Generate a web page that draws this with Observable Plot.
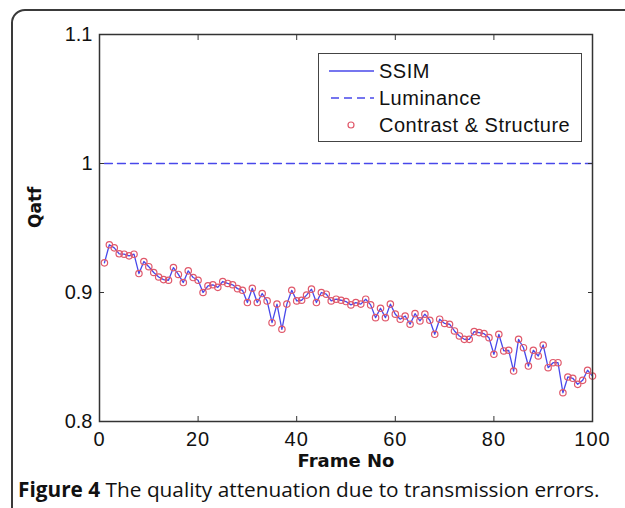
<!DOCTYPE html>
<html><head><meta charset="utf-8">
<script src="https://cdn.jsdelivr.net/npm/d3@7"></script>
<script src="https://cdn.jsdelivr.net/npm/@observablehq/plot@0.6"></script>
<style>
html,body{margin:0;padding:0;background:#fff;}
#wrap{position:relative;width:625px;height:508px;overflow:hidden;background:#fff;}
#border{position:absolute;left:11px;top:9px;width:640px;height:560px;border:2px solid #3a3a3a;border-radius:14px;box-sizing:border-box;}
#chart{position:absolute;left:0;top:0;}
#legend{position:absolute;left:318px;top:53px;width:264px;height:89px;border:1.3px solid #444;background:#fff;box-sizing:border-box;font-family:"Liberation Sans",Arial,sans-serif;font-size:20px;letter-spacing:0.5px;color:#111;}
.lg{position:absolute;left:0;height:24px;width:262px;}
.lg svg{position:absolute;left:9px;top:0;}
.lg span{position:absolute;left:60px;top:0px;line-height:24px;}
#caption{position:absolute;left:18px;top:475px;font-family:"Open Sans",sans-serif;font-size:20.8px;color:#111;white-space:nowrap;}
</style></head><body>
<div id="wrap"><div id="border"></div><div id="chart"></div><div id="legend"></div><div id="caption"></div></div>
<script>
// Frame numbers (x) and the series
const frameNo = d3.range(1, 101);
const ssim = [
 0.923,0.937,0.9346,0.930,0.9297,0.9284,0.9297,0.9147,0.924,0.920,
 0.9155,0.912,0.910,0.9095,0.9193,0.914,0.9077,0.9168,0.9116,0.9095,
 0.900,0.9051,0.906,0.904,0.9085,0.907,0.906,0.903,0.9017,0.8922,
 0.9033,0.8922,0.8992,0.8935,0.8766,0.891,0.8715,0.891,0.9017,0.8935,
 0.894,0.898,0.9026,0.8922,0.900,0.8987,0.8935,0.8948,0.894,0.893,
 0.8904,0.8922,0.891,0.8948,0.8904,0.8805,0.8878,0.8805,0.891,0.8832,
 0.8793,0.8818,0.8754,0.8836,0.878,0.8832,0.8785,0.8676,0.8793,0.876,
 0.8754,0.8702,0.8663,0.8637,0.8637,0.8697,0.8689,0.8681,0.865,0.8521,
 0.8676,0.8547,0.8552,0.8391,0.8637,0.8572,0.843,0.8552,0.8508,0.8593,
 0.8417,0.8456,0.8456,0.8223,0.8345,0.8335,0.8288,0.8319,0.8397,0.8352
];
const contrastStructure = ssim.slice();
const lumFrames = [1, 100];
const luminance = [1, 1];

const xTicks = [0, 20, 40, 60, 80, 100];
const yTicks = [0.8, 0.9, 1, 1.1];
const yTickLabels = ["0.8", "0.9", "1", "1.1"];
const seriesNames = ["SSIM", "Luminance", "Contrast & Structure"];
const xTitle = "Frame No";
const yTitle = "Qatf";
const captionBold = "Figure 4";
const captionText = " The quality attenuation due to transmission errors.";

const blue = "#4848ea";
const red = "#e0586a";

const ssimData = frameNo.map((f, i) => ({f, v: ssim[i]}));
const csData = frameNo.map((f, i) => ({f, v: contrastStructure[i]}));
const lumData = lumFrames.map((f, i) => ({f, v: luminance[i]}));

const chart = Plot.plot({
  width: 625, height: 478,
  marginLeft: 99, marginRight: 33, marginTop: 34, marginBottom: 57,
  style: {fontFamily: "'Liberation Sans', Arial, sans-serif", fontSize: "20px", background: "transparent", color: "#111", overflow: "visible"},
  x: {domain: [0, 100]},
  y: {domain: [0.8, 1.1]},
  marks: [
    Plot.line(lumData, {x: "f", y: "v", stroke: blue, strokeWidth: 1.3, strokeDasharray: "8,5"}),
    Plot.line(ssimData, {x: "f", y: "v", stroke: blue, strokeWidth: 1.3}),
    Plot.dot(csData, {x: "f", y: "v", r: 3.2, stroke: red, strokeWidth: 1.2, fill: "none"}),
    Plot.frame({stroke: "#333", strokeWidth: 1.5}),
    Plot.axisX(xTicks, {anchor: "bottom", tickSize: -5, tickPadding: 15, label: null, stroke: "#333"}),
    Plot.axisX(xTicks, {anchor: "top", tickSize: -5, tickFormat: () => "", label: null, stroke: "#333"}),
    Plot.axisY(yTicks, {anchor: "left", tickSize: -5, tickPadding: 12, label: null, tickFormat: (d, i) => yTickLabels[i], stroke: "#333"}),
    Plot.axisY(yTicks, {anchor: "right", tickSize: -5, tickFormat: () => "", label: null, stroke: "#333"}),
    Plot.text([xTitle], {frameAnchor: "bottom", dy: 45, fontWeight: "bold", fontFamily: "'DejaVu Sans', sans-serif", fontSize: 18, fill: "#111"}),
    Plot.text([yTitle], {frameAnchor: "left", dx: -64, rotate: -90, fontWeight: "bold", fontFamily: "'DejaVu Sans', sans-serif", fontSize: 17, fill: "#111"})
  ]
});
chart.querySelectorAll('[aria-label="x-axis tick label"] text').forEach(t => t.style.letterSpacing = "1px");
document.getElementById("chart").appendChild(chart);

// legend
const lg = document.getElementById("legend");
const rows = [
  {name: seriesNames[0], kind: "solid", top: 5},
  {name: seriesNames[1], kind: "dash", top: 32},
  {name: seriesNames[2], kind: "dot", top: 59}
];
rows.forEach(r => {
  const d = document.createElement("div");
  d.className = "lg";
  d.style.top = r.top + "px";
  let g = "";
  if (r.kind === "solid") g = `<line x1="1" x2="46" y1="12" y2="12" stroke="${blue}" stroke-width="1.3"/>`;
  if (r.kind === "dash") g = `<line x1="3" x2="46" y1="12" y2="12" stroke="${blue}" stroke-width="1.3" stroke-dasharray="8,5"/>`;
  if (r.kind === "dot") g = `<circle cx="23" cy="12" r="3" fill="none" stroke="${red}" stroke-width="1.2"/>`;
  d.innerHTML = `<svg width="48" height="24">${g}</svg><span>${r.name}</span>`;
  lg.appendChild(d);
});

document.getElementById("caption").innerHTML = `<b>${captionBold}</b>${captionText}`;
</script>
</body></html>
